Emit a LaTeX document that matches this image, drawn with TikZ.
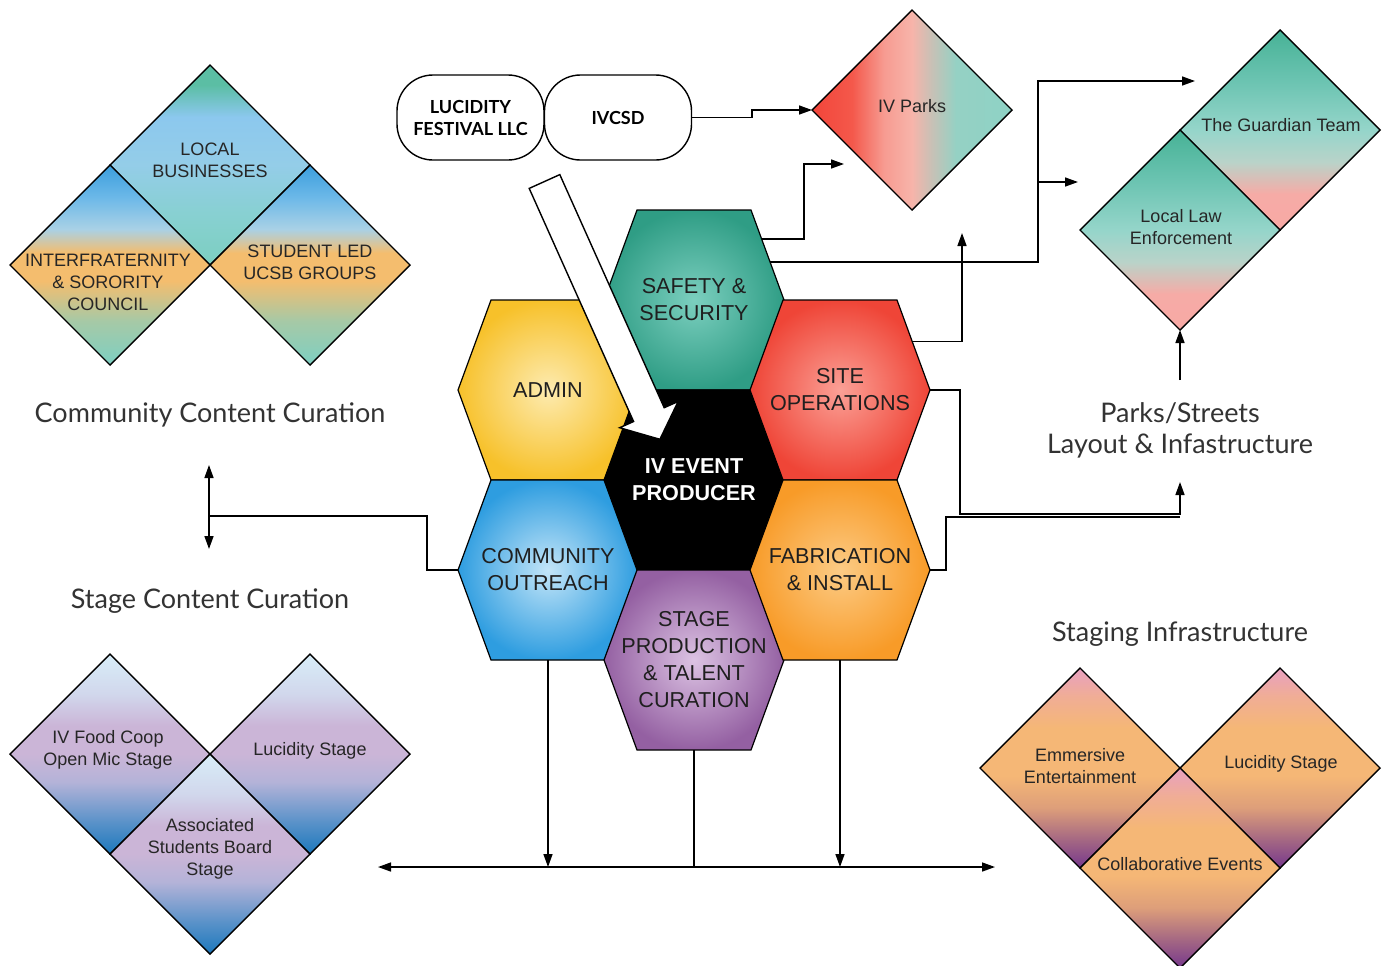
\documentclass[tikz,border=0pt]{standalone}
\usepackage{fontspec}
\setmainfont{Liberation Sans}
\newfontfamily\headfont{Lato}
\usetikzlibrary{shapes.geometric,arrows.meta,calc}

\definecolor{lbbot}{HTML}{7CCFC0}
\definecolor{lbtea}{HTML}{88D0D2}
\definecolor{lbmid}{HTML}{94CDE8}
\definecolor{lbblue}{HTML}{8CC8EE}
\definecolor{lbtop}{HTML}{5BBEA4}
\definecolor{sdbot}{HTML}{7DCFC3}
\definecolor{sdmix}{HTML}{A6C9A6}
\definecolor{sdora}{HTML}{F4BD6E}
\definecolor{sdlig}{HTML}{A9D1E6}
\definecolor{sdblu}{HTML}{6BB8E8}
\definecolor{sdtop}{HTML}{3B9EDD}
\definecolor{gdbot}{HTML}{F8A9A5}
\definecolor{gdpnk}{HTML}{F6ABA6}
\definecolor{gdmix}{HTML}{B9D3C9}
\definecolor{gdmid}{HTML}{95D5CA}
\definecolor{gdtea}{HTML}{6CC4B2}
\definecolor{gdtop}{HTML}{47B296}
\definecolor{stbot}{HTML}{1C78BC}
\definecolor{stblu}{HTML}{5A92C9}
\definecolor{stmix}{HTML}{B4B3D8}
\definecolor{stlil}{HTML}{CBB5D7}
\definecolor{stlig}{HTML}{D1D7EC}
\definecolor{sttop}{HTML}{D8EDF8}
\definecolor{inbot}{HTML}{76388D}
\definecolor{inplm}{HTML}{A46783}
\definecolor{inbrn}{HTML}{DD9E7A}
\definecolor{inora}{HTML}{F5B776}
\definecolor{inpnk}{HTML}{F0AD96}
\definecolor{intop}{HTML}{E8A0C0}
\definecolor{pkred}{HTML}{F2453A}
\definecolor{pkre2}{HTML}{F4584B}
\definecolor{pkros}{HTML}{F79B91}
\definecolor{pkpnk}{HTML}{F7B4AA}
\definecolor{pkgry}{HTML}{C7C1B6}
\definecolor{pktea}{HTML}{95D1C4}
\definecolor{pkend}{HTML}{8ED2C5}
\definecolor{admin1}{HTML}{FDEBB0}
\definecolor{admin2}{HTML}{F7C12A}
\definecolor{com1}{HTML}{C3E5F8}
\definecolor{com2}{HTML}{2E9DE0}
\definecolor{saf1}{HTML}{7CCFBF}
\definecolor{saf2}{HTML}{2F9D85}
\definecolor{stage1}{HTML}{DCC3E3}
\definecolor{stage2}{HTML}{9460A2}
\definecolor{site1}{HTML}{FBA096}
\definecolor{site2}{HTML}{EF4537}
\definecolor{fab1}{HTML}{FCCB85}
\definecolor{fab2}{HTML}{F89B28}

\pgfdeclareverticalshading{localshade}{100bp}{color(0bp)=(lbbot); color(25bp)=(lbbot); color(38bp)=(lbtea); color(50bp)=(lbmid); color(62bp)=(lbblue); color(70bp)=(lbtop); color(100bp)=(lbtop)}
\pgfdeclareverticalshading{sideshade}{100bp}{color(0bp)=(sdbot); color(25bp)=(sdbot); color(36bp)=(sdmix); color(46bp)=(sdora); color(53bp)=(sdora); color(59bp)=(sdlig); color(67bp)=(sdblu); color(75bp)=(sdtop); color(100bp)=(sdtop)}
\pgfdeclareverticalshading{guardshade}{100bp}{color(0bp)=(gdbot); color(25bp)=(gdbot); color(34bp)=(gdpnk); color(42bp)=(gdmix); color(50bp)=(gdmid); color(62bp)=(gdtea); color(75bp)=(gdtop); color(100bp)=(gdtop)}
\pgfdeclareverticalshading{stageshade}{100bp}{color(0bp)=(stbot); color(25bp)=(stbot); color(33bp)=(stblu); color(43bp)=(stmix); color(50bp)=(stlil); color(57bp)=(stlil); color(65bp)=(stlig); color(75bp)=(sttop); color(100bp)=(sttop)}
\pgfdeclareverticalshading{infrashade}{100bp}{color(0bp)=(inbot); color(25bp)=(inbot); color(32bp)=(inplm); color(40bp)=(inbrn); color(48bp)=(inora); color(60bp)=(inora); color(68bp)=(inpnk); color(75bp)=(intop); color(100bp)=(intop)}
\pgfdeclarehorizontalshading{parkshade}{100bp}{color(0bp)=(pkred); color(25bp)=(pkred); color(35bp)=(pkre2); color(43bp)=(pkros); color(50bp)=(pkpnk); color(55bp)=(pkgry); color(61bp)=(pktea); color(75bp)=(pkend); color(100bp)=(pkend)}

\newcommand{\hexcell}[6]{%
  \draw[hexline,#4] (#2-90,#3) coordinate (#1-w) -- (#2-57,#3-90) coordinate (#1-nw)
    -- (#2+57,#3-90) coordinate (#1-ne) -- (#2+90,#3) coordinate (#1-e)
    -- (#2+57,#3+90) coordinate (#1-se) -- (#2-57,#3+90) coordinate (#1-sw) -- cycle;
  \coordinate (#1-s) at (#2,#3+90);
  \node[hextext,#5] (#1) at (#2,#3) {#6};}

\begin{document}
\begin{tikzpicture}[x=0.5pt,y=-0.5pt,
  hexline/.style={draw=black,line width=0.6pt},
  hextext/.style={text=black!88,font=\fontsize{10.8}{13.5}\selectfont,align=center},
  gem/.style={diamond,draw=black,line width=0.7pt,minimum width=100pt,minimum height=100pt,inner sep=0pt,outer sep=0pt,shade},
  gemtext/.style={text=black!85,font=\fontsize{9}{11}\selectfont,align=center},
  headtext/.style={text=black!80,font=\headfont\fontsize{13.5}{15.5}\selectfont,align=center},
  pill/.style={draw=black,line width=0.7pt,rounded corners=18pt,minimum width=73.5pt,minimum height=42.5pt,align=center,font=\headfont\bfseries\fontsize{9}{11}\selectfont},
  link/.style={draw=black,line width=0.75pt,-{Triangle[length=6.5pt,width=4.5pt]}},
  plain/.style={draw=black,line width=0.75pt},
  twoway/.style={draw=black,line width=0.75pt,{Triangle[length=6.5pt,width=4.5pt]}-{Triangle[length=6.5pt,width=4.5pt]}}]
\path[fill=white,use as bounding box] (0,0) rectangle (1391,965);

\node[gem,shading=localshade] (local) at (210,165) {};
\node[gem,shading=sideshade] (inter) at (110,265) {};
\node[gem,shading=sideshade] (student) at (310,265) {};
\node[gemtext] (localt) at (210,160) {LOCAL\\BUSINESSES};
\node[gemtext] (intert) at (108,282) {INTERFRATERNITY\\\& SORORITY\\COUNCIL};
\node[gemtext] (studentt) at (310,262) {STUDENT LED\\UCSB GROUPS};

\node[gem,shading=stageshade] (food) at (110,754) {};
\node[gem,shading=stageshade] (lucida) at (310,754) {};
\node[gem,shading=stageshade] (assoc) at (210,854) {};
\node[gemtext] (foodt) at (108,750) {IV Food Coop\\Open Mic Stage};
\node[gemtext] (lucidat) at (310,751) {Lucidity Stage};
\node[gemtext] (assoct) at (210,849) {Associated\\Students Board\\Stage};

\node[gem,shading=infrashade] (emmer) at (1080,768) {};
\node[gem,shading=infrashade] (lucidb) at (1280,768) {};
\node[gem,shading=infrashade] (collab) at (1180,868) {};
\node[gemtext] (emmert) at (1080,766) {Emmersive\\Entertainment};
\node[gemtext] (lucidbt) at (1281,764) {Lucidity Stage};
\node[gemtext] (collabt) at (1180,864) {Collaborative Events};

\node[gem,shading=guardshade] (guard) at (1280,130) {};
\node[gem,shading=guardshade] (law) at (1180,230) {};
\node[gemtext] (guardt) at (1281,125) {The Guardian Team};
\node[gemtext] (lawt) at (1181,227) {Local Law\\Enforcement};

\node[gem,shading=parkshade] (parks) at (912,110) {};
\node[gemtext] (parkst) at (912,106) {IV Parks};

\node[pill] (llc) at (470.5,117.5) {LUCIDITY\\FESTIVAL LLC};
\node[pill] (ivcsd) at (618,117.5) {IVCSD};

\node[headtext] (commhead) at (210,415) {Community Content Curation};
\node[headtext] (stagehead) at (210,601) {Stage Content Curation};
\node[headtext] (streethead) at (1180,430) {Parks/Streets\\Layout \& Infastructure};
\node[headtext] (infrahead) at (1180,634) {Staging Infrastructure};

\hexcell{admin}{548}{390}{inner color=admin1,outer color=admin2}{}{ADMIN}
\hexcell{com}{548}{570}{inner color=com1,outer color=com2}{}{COMMUNITY\\OUTREACH}
\hexcell{saf}{694}{300}{inner color=saf1,outer color=saf2}{}{SAFETY \&\\SECURITY}
\hexcell{prod}{694}{480}{fill=black}{text=white,font=\bfseries\fontsize{10.8}{13.5}\selectfont}{IV EVENT\\PRODUCER}
\hexcell{stage}{694}{660}{inner color=stage1,outer color=stage2}{}{STAGE\\PRODUCTION\\\& TALENT\\CURATION}
\hexcell{site}{840}{390}{inner color=site1,outer color=site2}{}{SITE\\OPERATIONS}
\hexcell{fab}{840}{570}{inner color=fab1,outer color=fab2}{}{FABRICATION\\\& INSTALL}

\draw[fill=white,line width=0.7pt] (529.2,188.4) -- (633.6,421.5) -- (619.7,427.7) -- (659.9,439.3)
  -- (678.1,401.5) -- (664.2,407.7) -- (559.8,174.6) -- cycle;

\coordinate (parksin) at (844,164);
\coordinate (guardin) at (1195,81);
\coordinate (lawin) at (1078,182);
\coordinate (sitein) at (962,233);
\coordinate (streetin) at (1180,482);
\coordinate (lawbase) at (1180,380);
\coordinate (commup) at (209,465);
\coordinate (commdown) at (209,549);
\coordinate (spreadl) at (378,867);
\coordinate (spreadr) at (995,867);

\draw[link] (ivcsd.east) -- ++(60,0) |- (parks.west);
\draw[link] ($(saf-ne)!0.32!(saf-e)$) -| (804,164) -- (parksin);
\draw[link] ($(saf-ne)!0.58!(saf-e)$) -| (1038,81) -- (guardin);
\draw[link] (1038,182) -- (lawin);
\draw[link] ($(site-ne)!0.46!(site-e)$) -| (sitein);
\draw[link] (site-e) -- (960,390) |- (1180,514) -- (streetin);
\draw[plain] (fab-e) -- ++(16,0) |- (1180,517);
\draw[link] (lawbase) -- (law.south);
\draw[plain] (com-w) -- ++(-31,0) |- (209,516);
\draw[twoway] (commup) -- (commdown);
\draw[twoway] (spreadl) -- (spreadr);
\draw[link] (com-s) -- (548,867);
\draw[plain] (stage-s) -- (694,867);
\draw[link] (fab-s) -- (840,867);
\end{tikzpicture}
\end{document}
